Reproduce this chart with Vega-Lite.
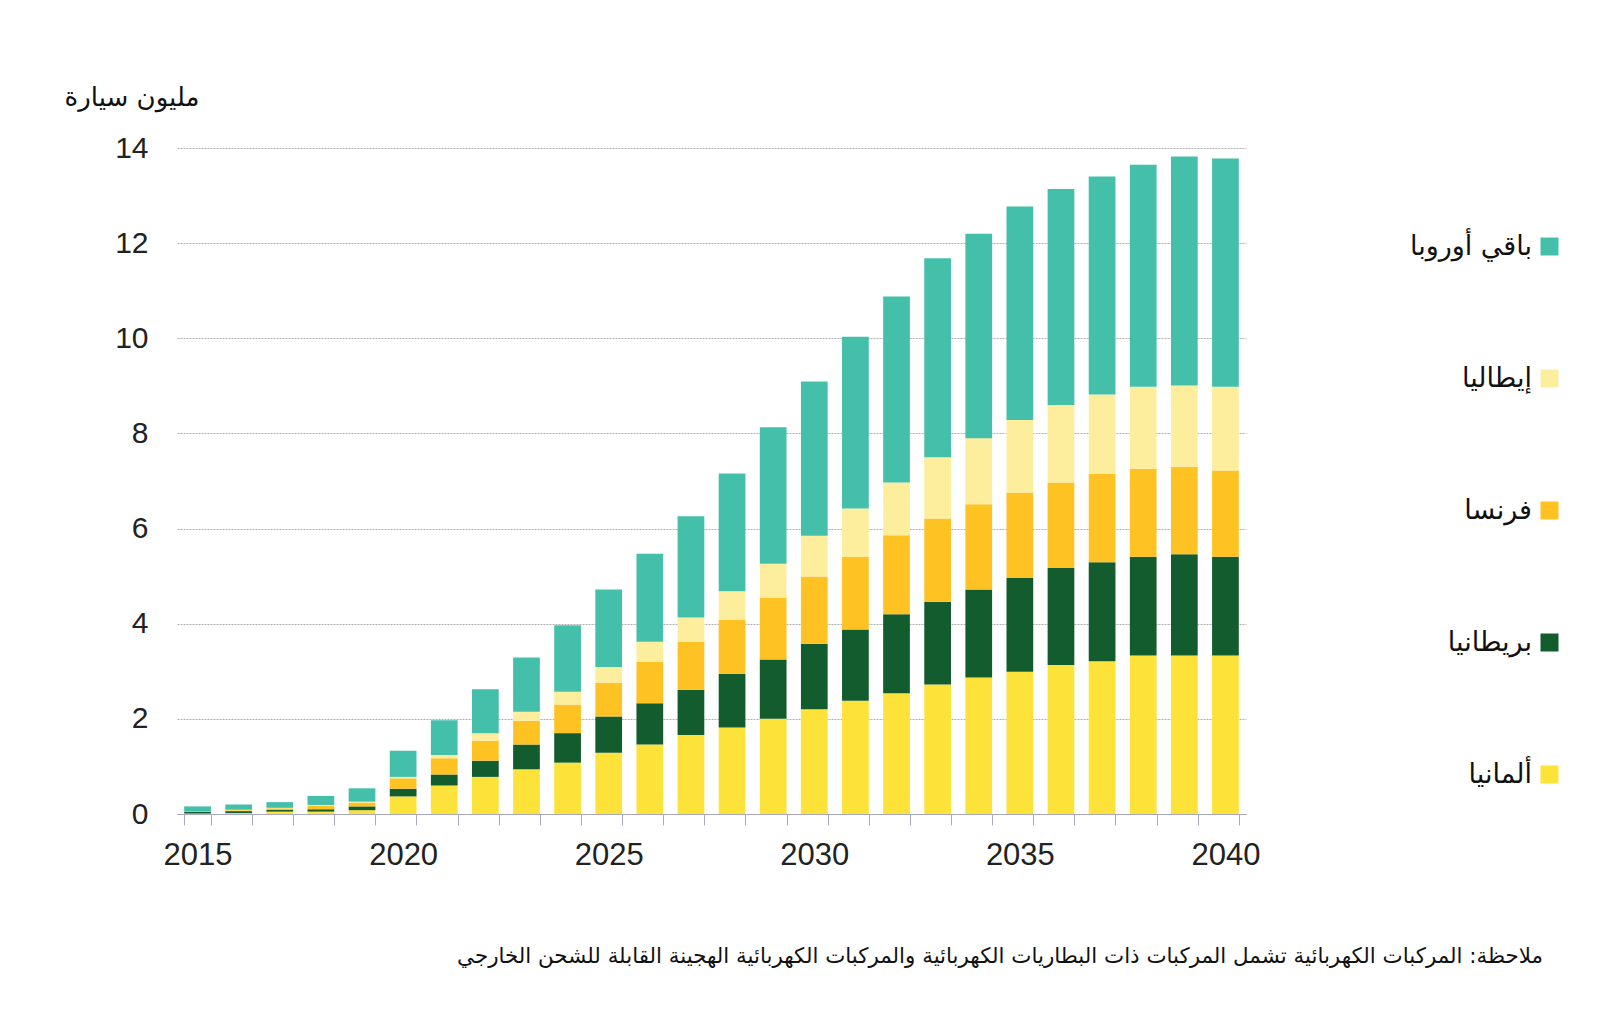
{
  "$schema": "https://vega.github.io/schema/vega-lite/v6.json",
  "width": 1069,
  "height": 666,
  "autosize": {"type": "none"},
  "padding": {"left": 177, "top": 148, "right": 354, "bottom": 200},
  "background": "white",
  "config": {"view": {"stroke": null}},
  "title": {
    "text": "ملاحظة: المركبات الكهربائية تشمل المركبات ذات البطاريات الكهربائية والمركبات الكهربائية الهجينة القابلة للشحن الخارجي",
    "orient": "bottom",
    "anchor": "end",
    "frame": "group",
    "font": "DejaVu Sans",
    "fontSize": 21.4,
    "fontWeight": "normal",
    "color": "#111111",
    "offset": 76,
    "dx": 297
  },
  "datasets": {
    "ranks": [
      {"country": "ألمانيا", "rank": 1},
      {"country": "بريطانيا", "rank": 2},
      {"country": "فرنسا", "rank": 3},
      {"country": "إيطاليا", "rank": 4},
      {"country": "باقي أوروبا", "rank": 5}
    ]
  },
  "data": {"values": [
    {"year": "2015", "country": "ألمانيا", "value": 0.01},
    {"year": "2015", "country": "بريطانيا", "value": 0.04},
    {"year": "2015", "country": "فرنسا", "value": 0.01},
    {"year": "2015", "country": "إيطاليا", "value": 0.0},
    {"year": "2015", "country": "باقي أوروبا", "value": 0.10},
    {"year": "2016", "country": "ألمانيا", "value": 0.02},
    {"year": "2016", "country": "بريطانيا", "value": 0.04},
    {"year": "2016", "country": "فرنسا", "value": 0.02},
    {"year": "2016", "country": "إيطاليا", "value": 0.01},
    {"year": "2016", "country": "باقي أوروبا", "value": 0.11},
    {"year": "2017", "country": "ألمانيا", "value": 0.05},
    {"year": "2017", "country": "بريطانيا", "value": 0.04},
    {"year": "2017", "country": "فرنسا", "value": 0.03},
    {"year": "2017", "country": "إيطاليا", "value": 0.01},
    {"year": "2017", "country": "باقي أوروبا", "value": 0.12},
    {"year": "2018", "country": "ألمانيا", "value": 0.05},
    {"year": "2018", "country": "بريطانيا", "value": 0.05},
    {"year": "2018", "country": "فرنسا", "value": 0.07},
    {"year": "2018", "country": "إيطاليا", "value": 0.02},
    {"year": "2018", "country": "باقي أوروبا", "value": 0.19},
    {"year": "2019", "country": "ألمانيا", "value": 0.08},
    {"year": "2019", "country": "بريطانيا", "value": 0.08},
    {"year": "2019", "country": "فرنسا", "value": 0.08},
    {"year": "2019", "country": "إيطاليا", "value": 0.02},
    {"year": "2019", "country": "باقي أوروبا", "value": 0.28},
    {"year": "2020", "country": "ألمانيا", "value": 0.37},
    {"year": "2020", "country": "بريطانيا", "value": 0.16},
    {"year": "2020", "country": "فرنسا", "value": 0.22},
    {"year": "2020", "country": "إيطاليا", "value": 0.03},
    {"year": "2020", "country": "باقي أوروبا", "value": 0.55},
    {"year": "2021", "country": "ألمانيا", "value": 0.60},
    {"year": "2021", "country": "بريطانيا", "value": 0.23},
    {"year": "2021", "country": "فرنسا", "value": 0.34},
    {"year": "2021", "country": "إيطاليا", "value": 0.07},
    {"year": "2021", "country": "باقي أوروبا", "value": 0.73},
    {"year": "2022", "country": "ألمانيا", "value": 0.78},
    {"year": "2022", "country": "بريطانيا", "value": 0.34},
    {"year": "2022", "country": "فرنسا", "value": 0.42},
    {"year": "2022", "country": "إيطاليا", "value": 0.16},
    {"year": "2022", "country": "باقي أوروبا", "value": 0.92},
    {"year": "2023", "country": "ألمانيا", "value": 0.94},
    {"year": "2023", "country": "بريطانيا", "value": 0.52},
    {"year": "2023", "country": "فرنسا", "value": 0.50},
    {"year": "2023", "country": "إيطاليا", "value": 0.19},
    {"year": "2023", "country": "باقي أوروبا", "value": 1.14},
    {"year": "2024", "country": "ألمانيا", "value": 1.08},
    {"year": "2024", "country": "بريطانيا", "value": 0.62},
    {"year": "2024", "country": "فرنسا", "value": 0.60},
    {"year": "2024", "country": "إيطاليا", "value": 0.27},
    {"year": "2024", "country": "باقي أوروبا", "value": 1.40},
    {"year": "2025", "country": "ألمانيا", "value": 1.29},
    {"year": "2025", "country": "بريطانيا", "value": 0.76},
    {"year": "2025", "country": "فرنسا", "value": 0.71},
    {"year": "2025", "country": "إيطاليا", "value": 0.33},
    {"year": "2025", "country": "باقي أوروبا", "value": 1.63},
    {"year": "2026", "country": "ألمانيا", "value": 1.46},
    {"year": "2026", "country": "بريطانيا", "value": 0.87},
    {"year": "2026", "country": "فرنسا", "value": 0.87},
    {"year": "2026", "country": "إيطاليا", "value": 0.42},
    {"year": "2026", "country": "باقي أوروبا", "value": 1.85},
    {"year": "2027", "country": "ألمانيا", "value": 1.66},
    {"year": "2027", "country": "بريطانيا", "value": 0.95},
    {"year": "2027", "country": "فرنسا", "value": 1.01},
    {"year": "2027", "country": "إيطاليا", "value": 0.51},
    {"year": "2027", "country": "باقي أوروبا", "value": 2.13},
    {"year": "2028", "country": "ألمانيا", "value": 1.82},
    {"year": "2028", "country": "بريطانيا", "value": 1.13},
    {"year": "2028", "country": "فرنسا", "value": 1.13},
    {"year": "2028", "country": "إيطاليا", "value": 0.60},
    {"year": "2028", "country": "باقي أوروبا", "value": 2.48},
    {"year": "2029", "country": "ألمانيا", "value": 2.00},
    {"year": "2029", "country": "بريطانيا", "value": 1.25},
    {"year": "2029", "country": "فرنسا", "value": 1.29},
    {"year": "2029", "country": "إيطاليا", "value": 0.72},
    {"year": "2029", "country": "باقي أوروبا", "value": 2.87},
    {"year": "2030", "country": "ألمانيا", "value": 2.20},
    {"year": "2030", "country": "بريطانيا", "value": 1.38},
    {"year": "2030", "country": "فرنسا", "value": 1.41},
    {"year": "2030", "country": "إيطاليا", "value": 0.86},
    {"year": "2030", "country": "باقي أوروبا", "value": 3.24},
    {"year": "2031", "country": "ألمانيا", "value": 2.38},
    {"year": "2031", "country": "بريطانيا", "value": 1.50},
    {"year": "2031", "country": "فرنسا", "value": 1.52},
    {"year": "2031", "country": "إيطاليا", "value": 1.02},
    {"year": "2031", "country": "باقي أوروبا", "value": 3.61},
    {"year": "2032", "country": "ألمانيا", "value": 2.54},
    {"year": "2032", "country": "بريطانيا", "value": 1.66},
    {"year": "2032", "country": "فرنسا", "value": 1.66},
    {"year": "2032", "country": "إيطاليا", "value": 1.11},
    {"year": "2032", "country": "باقي أوروبا", "value": 3.91},
    {"year": "2033", "country": "ألمانيا", "value": 2.72},
    {"year": "2033", "country": "بريطانيا", "value": 1.74},
    {"year": "2033", "country": "فرنسا", "value": 1.75},
    {"year": "2033", "country": "إيطاليا", "value": 1.29},
    {"year": "2033", "country": "باقي أوروبا", "value": 4.18},
    {"year": "2034", "country": "ألمانيا", "value": 2.87},
    {"year": "2034", "country": "بريطانيا", "value": 1.85},
    {"year": "2034", "country": "فرنسا", "value": 1.79},
    {"year": "2034", "country": "إيطاليا", "value": 1.39},
    {"year": "2034", "country": "باقي أوروبا", "value": 4.30},
    {"year": "2035", "country": "ألمانيا", "value": 2.99},
    {"year": "2035", "country": "بريطانيا", "value": 1.97},
    {"year": "2035", "country": "فرنسا", "value": 1.80},
    {"year": "2035", "country": "إيطاليا", "value": 1.52},
    {"year": "2035", "country": "باقي أوروبا", "value": 4.49},
    {"year": "2036", "country": "ألمانيا", "value": 3.13},
    {"year": "2036", "country": "بريطانيا", "value": 2.04},
    {"year": "2036", "country": "فرنسا", "value": 1.80},
    {"year": "2036", "country": "إيطاليا", "value": 1.63},
    {"year": "2036", "country": "باقي أوروبا", "value": 4.54},
    {"year": "2037", "country": "ألمانيا", "value": 3.21},
    {"year": "2037", "country": "بريطانيا", "value": 2.08},
    {"year": "2037", "country": "فرنسا", "value": 1.86},
    {"year": "2037", "country": "إيطاليا", "value": 1.67},
    {"year": "2037", "country": "باقي أوروبا", "value": 4.58},
    {"year": "2038", "country": "ألمانيا", "value": 3.33},
    {"year": "2038", "country": "بريطانيا", "value": 2.08},
    {"year": "2038", "country": "فرنسا", "value": 1.85},
    {"year": "2038", "country": "إيطاليا", "value": 1.72},
    {"year": "2038", "country": "باقي أوروبا", "value": 4.67},
    {"year": "2039", "country": "ألمانيا", "value": 3.33},
    {"year": "2039", "country": "بريطانيا", "value": 2.13},
    {"year": "2039", "country": "فرنسا", "value": 1.84},
    {"year": "2039", "country": "إيطاليا", "value": 1.71},
    {"year": "2039", "country": "باقي أوروبا", "value": 4.81},
    {"year": "2040", "country": "ألمانيا", "value": 3.33},
    {"year": "2040", "country": "بريطانيا", "value": 2.08},
    {"year": "2040", "country": "فرنسا", "value": 1.81},
    {"year": "2040", "country": "إيطاليا", "value": 1.76},
    {"year": "2040", "country": "باقي أوروبا", "value": 4.80}
  ]},
  "transform": [
    {"lookup": "country", "from": {"data": {"name": "ranks"}, "key": "country", "fields": ["rank"]}}
  ],
  "mark": {"type": "bar"},
  "encoding": {
    "x": {
      "field": "year",
      "type": "ordinal",
      "scale": {"paddingInner": 0.35, "paddingOuter": 0.175},
      "axis": {
        "title": null,
        "labelAngle": 0,
        "labelExpr": "toNumber(datum.value) % 5 === 0 ? datum.label : ''",
        "labelOverlap": false,
        "labelFont": "Liberation Sans",
        "labelFontSize": 31,
        "labelColor": "#222222",
        "labelPadding": 15,
        "tickBand": "extent",
        "tickSize": 11,
        "tickColor": "#a8a8c0",
        "domainColor": "#a8a8c0",
        "grid": false
      }
    },
    "y": {
      "field": "value",
      "type": "quantitative",
      "stack": "zero",
      "scale": {"domain": [0, 14], "nice": false},
      "axis": {
        "values": [0, 2, 4, 6, 8, 10, 12, 14],
        "title": "مليون سيارة",
        "titleAngle": 0,
        "titleAlign": "right",
        "titleBaseline": "middle",
        "titleX": 22,
        "titleY": -51,
        "titleFont": "DejaVu Sans",
        "titleFontSize": 26,
        "titleFontWeight": "normal",
        "titleColor": "#111111",
        "domain": false,
        "ticks": false,
        "labelFont": "Liberation Sans",
        "labelFontSize": 30,
        "labelColor": "#222222",
        "labelPadding": 29,
        "grid": true,
        "gridColor": "#b0b0b0",
        "gridDash": [2, 1]
      }
    },
    "color": {
      "field": "country",
      "type": "nominal",
      "scale": {
        "domain": ["باقي أوروبا", "إيطاليا", "فرنسا", "بريطانيا", "ألمانيا"],
        "range": ["#44BFAA", "#FDEE9E", "#FEC323", "#135C2E", "#FDE23A"]
      },
      "legend": {
        "orient": "none",
        "legendX": 1359,
        "legendY": 85,
        "title": null,
        "symbolType": "square",
        "symbolSize": 324,
        "symbolStrokeWidth": 0,
        "symbolOpacity": 1,
        "labelAlign": "right",
        "labelOffset": -31,
        "labelFont": "DejaVu Sans",
        "labelFontSize": 27,
        "labelColor": "#111111",
        "labelLimit": 400,
        "rowPadding": 104,
        "padding": 0
      }
    },
    "order": {"field": "rank", "type": "quantitative"}
  }
}
